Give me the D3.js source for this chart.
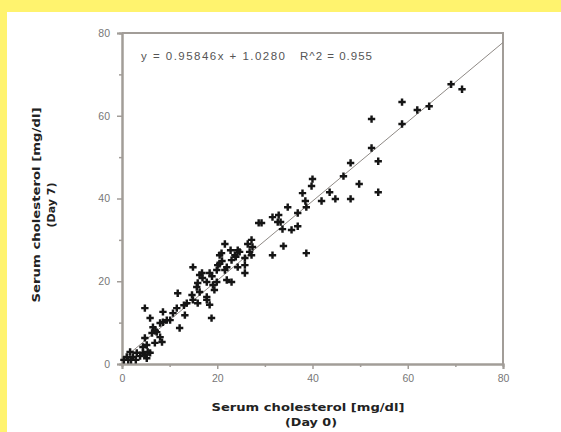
<!DOCTYPE html>
<html>
<head>
<meta charset="utf-8">
<script src="https://cdn.jsdelivr.net/npm/d3@7"></script>
<style>
  html, body { margin: 0; padding: 0; background: #ffffff; }
  svg { display: block; }
</style>
</head>
<body>
<svg id="chart" width="561" height="432"></svg>
<script>
// Serum cholesterol, day 0 vs day 7 (mg/dl)
const dayZero = [
  71.4, 69.1, 64.5, 62.0, 58.8, 58.8, 52.4, 52.4, 53.8, 48.0,
  40.0, 39.8, 46.5, 49.8, 53.8, 48.0, 43.6, 44.8, 41.9, 37.9,
  38.5, 38.7, 34.8, 36.9, 32.9, 31.6, 28.7, 29.3, 32.7, 33.7,
  35.6, 36.9, 33.9, 38.7, 31.6, 27.2, 26.4, 27.4, 27.2, 24.3,
  21.6, 23.7, 26.8, 25.8, 23.0, 20.5, 20.9, 25.8, 14.9, 20.1,
  21.6, 16.3, 18.4, 17.8, 19.9, 23.0, 15.7, 11.7, 14.7, 16.3,
  17.8, 14.9, 13.6, 15.9, 17.8, 18.4, 11.5, 8.6, 4.8, 10.7,
  13.2, 5.9, 18.8, 10.1, 8.6, 8.0, 12.1, 6.5, 7.3, 6.3,
  8.0, 8.4, 4.8, 4.4, 1.7, 3.1, 4.4, 5.9, 1.0, 2.3,
  3.8, 1.3, 5.2, 20.5, 22.0, 24.3, 25.8, 19.9, 16.8, 22.0,
  15.9, 19.1, 33.3, 22.8, 24.7, 0.4, 1.9, 2.9, 4.8, 5.4,
  6.9, 5.2, 16.9, 18.9, 21.0, 23.9, 19.4, 13.0, 9.4, 7.0
];
const daySeven = [
  66.4, 67.6, 62.3, 61.4, 63.3, 58.0, 59.2, 52.2, 49.0, 48.6,
  44.7, 43.0, 45.4, 43.5, 41.5, 39.9, 41.5, 39.9, 39.4, 41.3,
  39.4, 37.9, 37.9, 36.5, 36.0, 35.5, 34.1, 34.1, 34.3, 32.6,
  32.4, 33.3, 28.5, 26.8, 26.3, 30.0, 29.0, 28.3, 26.3, 27.5,
  29.0, 26.3, 27.1, 25.6, 25.1, 26.3, 26.8, 23.9, 23.4, 23.9,
  22.7, 21.5, 22.0, 19.8, 19.8, 19.8, 18.6, 17.1, 16.7, 17.4,
  16.2, 15.5, 14.7, 14.7, 15.5, 14.3, 13.5, 12.6, 13.5, 12.3,
  11.8, 11.1, 11.1, 10.6, 10.1, 9.9, 8.7, 8.9, 7.7, 7.5,
  6.5, 5.3, 6.3, 4.1, 2.9, 2.7, 2.7, 2.7, 1.7, 1.7,
  1.9, 1.0, 1.4, 24.2, 23.4, 23.4, 22.0, 22.7, 22.0, 20.3,
  19.6, 19.1, 34.3, 27.5, 27.1, 1.0, 1.0, 1.0, 2.2, 2.9,
  5.1, 4.6, 20.8, 21.2, 24.9, 25.9, 17.9, 14.2, 10.6, 8.0
];

// Least-squares fit shown in the plot
const slope = 0.95846;
const intercept = 1.0280;
const rSquared = "0.955";

const majorTicks = [0, 20, 40, 60, 80];
const minorTicks = [10, 30, 50, 70];
const xTitle = ["Serum cholesterol [mg/dl]", "(Day 0)"];
const yTitle = ["Serum cholesterol [mg/dl]", "(Day 7)"];

const svg = d3.select("#chart");
const W = 561, H = 432;

// page background with yellow border on the top and left
svg.append("rect").attr("width", W).attr("height", H).attr("fill", "#ffffff");
svg.append("rect").attr("x", 0).attr("y", 0).attr("width", W).attr("height", 12).attr("fill", "#fff36e");
svg.append("rect").attr("x", 0).attr("y", 0).attr("width", 7).attr("height", H).attr("fill", "#fff36e");

const plot = { left: 122, right: 503, top: 33, bottom: 364 };
const x = d3.scaleLinear().domain([0, 80]).range([plot.left, plot.right]);
const y = d3.scaleLinear().domain([0, 80]).range([plot.bottom, plot.top]);

const axisColor = "#a29d98";
const labelColor = "#777777";

// frame: top and right edges
svg.append("path")
  .attr("d", `M${plot.left},${plot.top}H${plot.right}V${plot.bottom}`)
  .attr("fill", "none").attr("stroke", axisColor).attr("stroke-width", 2);

function styleAxis(g) {
  g.select(".domain").attr("stroke", axisColor).attr("stroke-width", 2);
  g.selectAll(".tick line").attr("stroke", axisColor).attr("stroke-width", 1.5);
  g.selectAll(".tick text")
    .attr("fill", labelColor)
    .attr("font-family", "Liberation Sans, Arial, sans-serif")
    .attr("font-size", 10.5);
}

// minor ticks
svg.append("g")
  .attr("transform", `translate(0,${plot.bottom})`)
  .call(d3.axisBottom(x).tickValues(minorTicks).tickSize(3).tickFormat(""))
  .call(styleAxis);
svg.append("g")
  .attr("transform", `translate(${plot.left},0)`)
  .call(d3.axisLeft(y).tickValues(minorTicks).tickSize(3).tickFormat(""))
  .call(styleAxis);

// major ticks with labels
svg.append("g")
  .attr("transform", `translate(0,${plot.bottom})`)
  .call(d3.axisBottom(x).tickValues(majorTicks).tickSize(5).tickPadding(6).tickFormat(d3.format("d")))
  .call(styleAxis);
svg.append("g")
  .attr("transform", `translate(${plot.left},0)`)
  .call(d3.axisLeft(y).tickValues(majorTicks).tickSize(5).tickPadding(7).tickFormat(d3.format("d")))
  .call(styleAxis);

// regression line
const fit = d3.line().x(d => x(d)).y(d => y(slope * d + intercept));
svg.append("path")
  .datum([0, 80])
  .attr("d", fit)
  .attr("fill", "none")
  .attr("stroke", "#8f8a86")
  .attr("stroke-width", 1);

// data points
const points = dayZero.map((v, i) => ({ d0: v, d7: daySeven[i] }));
const marker = d3.symbol().type(d3.symbolCross).size(30);
svg.append("g")
  .selectAll("path")
  .data(points)
  .join("path")
  .attr("transform", d => `translate(${x(d.d0)},${y(d.d7)})`)
  .attr("d", marker)
  .attr("fill", "#151515");

// fit equation
const eqFont = "Liberation Sans, Arial, sans-serif";
svg.append("text")
  .attr("x", 141).attr("y", 60)
  .attr("font-family", eqFont).attr("font-size", 11.5)
  .attr("fill", "#555")
  .attr("textLength", 144).attr("lengthAdjust", "spacing")
  .text(`y = ${slope.toFixed(5)}x + ${intercept.toFixed(4)}`);
svg.append("text")
  .attr("x", 300).attr("y", 60)
  .attr("font-family", eqFont).attr("font-size", 11.5)
  .attr("fill", "#555")
  .attr("textLength", 72).attr("lengthAdjust", "spacing")
  .text(`R^2 = ${rSquared}`);

// axis titles
const titleFont = "DejaVu Sans, Verdana, sans-serif";
const xt = svg.append("g").attr("font-family", titleFont).attr("font-weight", "bold")
  .attr("font-size", 11).attr("fill", "#222").attr("text-anchor", "middle");
xt.append("text").attr("x", 308).attr("y", 411)
  .attr("textLength", 193).attr("lengthAdjust", "spacingAndGlyphs").text(xTitle[0]);
xt.append("text").attr("x", 311).attr("y", 426)
  .attr("textLength", 52).attr("lengthAdjust", "spacingAndGlyphs").text(xTitle[1]);

const yt = svg.append("g").attr("font-family", titleFont).attr("font-weight", "bold")
  .attr("font-size", 11).attr("fill", "#222").attr("text-anchor", "middle");
yt.append("text").attr("transform", "translate(40,205) rotate(-90)")
  .attr("textLength", 195).attr("lengthAdjust", "spacingAndGlyphs").text(yTitle[0]);
yt.append("text").attr("transform", "translate(55,205) rotate(-90)")
  .attr("textLength", 45).attr("lengthAdjust", "spacingAndGlyphs").text(yTitle[1]);
</script>
</body>
</html>
